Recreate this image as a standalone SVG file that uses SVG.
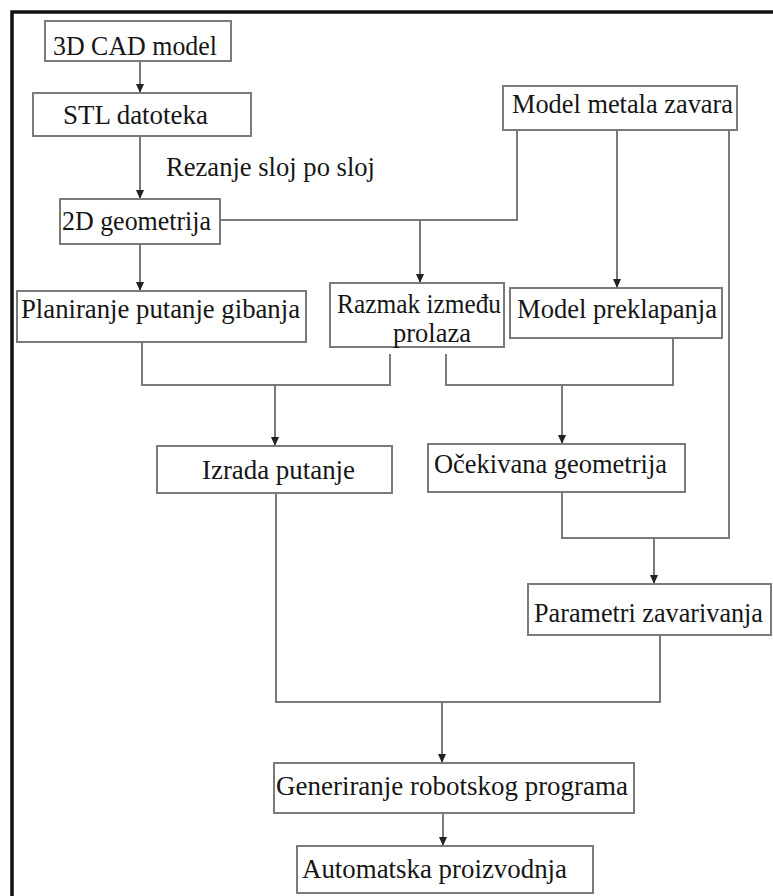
<svg xmlns="http://www.w3.org/2000/svg" width="773" height="896" viewBox="0 0 773 896">
<style>
  .box{fill:#fff;stroke:#7a7a7a;stroke-width:2}
  .t{font-family:"Liberation Serif","Times New Roman",serif;font-size:27px;fill:#161616}
  .ln{fill:none;stroke:#7a7a7a;stroke-width:2}
  .ar{fill:none;stroke:#7a7a7a;stroke-width:2;marker-end:url(#ah)}
</style>
<defs>
  <marker id="ah" markerWidth="10" markerHeight="10" refX="9" refY="5" orient="auto" markerUnits="userSpaceOnUse">
    <path d="M0,1 L9,5 L0,9 z" fill="#222"/>
  </marker>
</defs>
<rect x="0" y="0" width="773" height="896" fill="#fff"/>
<rect x="12" y="12" width="800" height="920" fill="none" stroke="#111" stroke-width="3.5"/>

<g id="connectors">
  <line class="ar" x1="140" y1="61" x2="140" y2="93"/>
  <line class="ar" x1="140" y1="136" x2="140" y2="199"/>
  <line class="ar" x1="140" y1="244" x2="140" y2="291"/>
  <polyline class="ln" points="220,220 517,220 517,130"/>
  <line class="ar" x1="420" y1="220" x2="420" y2="283"/>
  <line class="ar" x1="617" y1="130" x2="617" y2="288"/>
  <polyline class="ln" points="729,130 729,538 562,538 562,492"/>
  <line class="ar" x1="654" y1="538" x2="654" y2="584"/>
  <polyline class="ln" points="142,342 142,385 390,385 390,354"/>
  <line class="ar" x1="275" y1="385" x2="275" y2="446"/>
  <polyline class="ln" points="446,354 446,385 673,385 673,338"/>
  <line class="ar" x1="562" y1="385" x2="562" y2="444"/>
  <polyline class="ln" points="276,493 276,702 660,702 660,635"/>
  <line class="ar" x1="442" y1="702" x2="442" y2="763"/>
  <line class="ar" x1="443" y1="813" x2="443" y2="846"/>
  <text class="t" x="166" y="176" textLength="209" lengthAdjust="spacingAndGlyphs">Rezanje sloj po sloj</text>
</g>

<g id="cad">
  <rect class="box" x="45" y="21" width="186" height="40"/>
  <text class="t" x="53" y="55" textLength="164" lengthAdjust="spacingAndGlyphs">3D CAD model</text>
</g>
<g id="stl">
  <rect class="box" x="33" y="93" width="218" height="43"/>
  <text class="t" x="63" y="124" textLength="145" lengthAdjust="spacingAndGlyphs">STL datoteka</text>
</g>
<g id="geo2d">
  <rect class="box" x="60" y="199" width="160" height="45"/>
  <text class="t" x="62" y="230" textLength="149" lengthAdjust="spacingAndGlyphs">2D geometrija</text>
</g>
<g id="metal">
  <rect class="box" x="503" y="86" width="234" height="44"/>
  <text class="t" x="512" y="113" textLength="221" lengthAdjust="spacingAndGlyphs">Model metala zavara</text>
</g>
<g id="planiranje">
  <rect class="box" x="17" y="291" width="289" height="51"/>
  <text class="t" x="21" y="318" textLength="279" lengthAdjust="spacingAndGlyphs">Planiranje putanje gibanja</text>
</g>
<g id="razmak">
  <rect class="box" x="330" y="283" width="174" height="64"/>
  <text class="t" x="337" y="313" textLength="164" lengthAdjust="spacingAndGlyphs">Razmak između</text>
  <text class="t" x="393" y="342" textLength="78" lengthAdjust="spacingAndGlyphs">prolaza</text>
</g>
<g id="preklapanje">
  <rect class="box" x="510" y="288" width="212" height="50"/>
  <text class="t" x="517" y="318" textLength="200" lengthAdjust="spacingAndGlyphs">Model preklapanja</text>
</g>
<g id="izrada">
  <rect class="box" x="157" y="446" width="235" height="47"/>
  <text class="t" x="202" y="479" textLength="153" lengthAdjust="spacingAndGlyphs">Izrada putanje</text>
</g>
<g id="ocekivana">
  <rect class="box" x="428" y="444" width="257" height="48"/>
  <text class="t" x="434" y="473" textLength="233" lengthAdjust="spacingAndGlyphs">Očekivana geometrija</text>
</g>
<g id="parametri">
  <rect class="box" x="528" y="584" width="243" height="51"/>
  <text class="t" x="534" y="622" textLength="229" lengthAdjust="spacingAndGlyphs">Parametri zavarivanja</text>
</g>
<g id="generiranje">
  <rect class="box" x="274" y="763" width="360" height="50"/>
  <text class="t" x="276" y="795" textLength="352" lengthAdjust="spacingAndGlyphs">Generiranje robotskog programa</text>
</g>
<g id="automatska">
  <rect class="box" x="297" y="846" width="296" height="47"/>
  <text class="t" x="302" y="878" textLength="265" lengthAdjust="spacingAndGlyphs">Automatska proizvodnja</text>
</g>
</svg>
